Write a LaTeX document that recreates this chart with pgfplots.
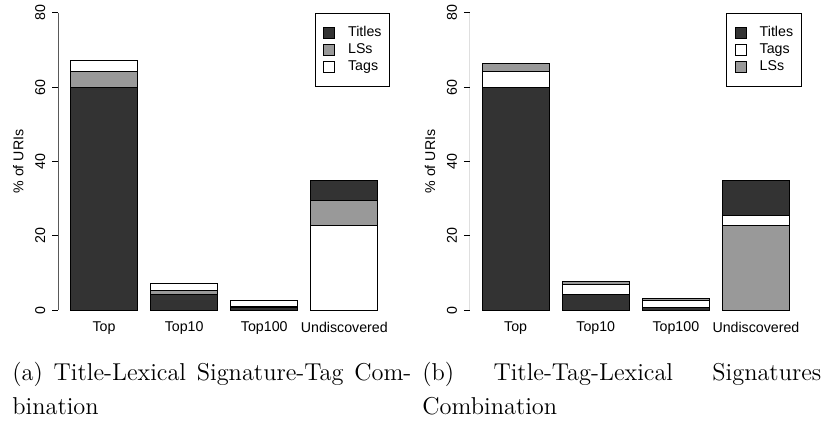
\documentclass[border=0pt]{standalone}
\usepackage{pgfplots}
\pgfplotsset{compat=1.18}
\usepackage{fontspec}
\newfontfamily\arial{Liberation Sans}
\definecolor{dk}{HTML}{333333}
\definecolor{md}{HTML}{999999}
\newcommand{\sfs}{\arial\fontsize{7.1}{8.5}\selectfont}
\pgfplotsset{
  sq/.style={legend image code/.code={\draw[##1,draw=black,line width=0.5pt] (0pt,-2.75pt) rectangle (5.5pt,2.75pt);}},
  rstyle/.style={
    scale only axis, width=165.8pt, height=160.5pt,
    xmin=0.016, xmax=4.984, ymin=-3.2, ymax=83.2,
    ybar stacked, bar width=1,
    axis x line*=bottom, axis y line*=left,
    axis line style={draw=none},
    xtick={0.7,1.9,3.1,4.3},
    xticklabels={Top,Top10,Top100,Undiscovered},
    xtick style={draw=none},
    ytick={0,20,40,60,80},
    ytick style={draw=black,line width=0.5pt},
    tick align=outside, major tick length=3pt,
    /pgf/number format/assume math mode=true,
    ticklabel style={font=\sfs},
    yticklabel style={rotate=90, anchor=south},
    xticklabel style={anchor=north, inner sep=0pt, yshift=3.2pt},
    ylabel={\% of URIs},
    ylabel style={font=\sfs, at={(axis description cs:-0.1206,0.5)}, anchor=center},
    legend style={at={(axis cs:4.984,80)}, anchor=north east, draw=black, line width=0.5pt,
      font=\sfs, inner xsep=4pt, inner ysep=6.5pt, row sep=2pt,
      nodes={inner sep=0pt, text height=5.2pt, text depth=1.3pt},
      column sep=6.5pt},
    legend cell align=left,
    every axis plot/.append style={draw=black, line width=0.5pt},
  }
}
\begin{document}
\begin{tikzpicture}
\useasboundingbox (0,0) rectangle (413.5pt,-217pt);
% (a)
\begin{axis}[rstyle, at={(29.2pt,-161pt)}, anchor=south west]
\addplot[fill=dk, sq] coordinates {(0.7,60) (1.9,4.2) (3.1,0.8) (4.3,0)};
\addlegendentry{Titles}
\addplot[fill=md, sq] coordinates {(0.7,4.3) (1.9,1.0) (3.1,0.2) (4.3,0)};
\addlegendentry{LSs}
\addplot[fill=white, sq] coordinates {(0.7,2.9) (1.9,1.9) (3.1,1.5) (4.3,22.8)};
\addlegendentry{Tags}
\addplot[fill=md, forget plot] coordinates {(0.7,0) (1.9,0) (3.1,0) (4.3,6.6)};
\addplot[fill=dk, forget plot] coordinates {(0.7,0) (1.9,0) (3.1,0) (4.3,5.6)};
\draw[line width=0.5pt] (axis cs:0.016,0) -- (axis cs:0.016,80);
\end{axis}
% (b)
\begin{axis}[rstyle, at={(235pt,-161pt)}, anchor=south west]
\addplot[fill=md, forget plot] coordinates {(0.7,0) (1.9,0) (3.1,0) (4.3,22.8)};
\addplot[fill=dk, sq] coordinates {(0.7,60) (1.9,4.2) (3.1,0.6) (4.3,0)};
\addlegendentry{Titles}
\addplot[fill=white, sq] coordinates {(0.7,4.2) (1.9,2.7) (3.1,2.1) (4.3,2.8)};
\addlegendentry{Tags}
\addplot[fill=md, sq] coordinates {(0.7,2.3) (1.9,0.7) (3.1,0.3) (4.3,0)};
\addlegendentry{LSs}
\addplot[fill=dk, forget plot] coordinates {(0.7,0) (1.9,0) (3.1,0) (4.3,9.4)};
\draw[line width=0.5pt] (axis cs:0.016,0) -- (axis cs:0.016,80);
\end{axis}
\node[anchor=north west, inner sep=0pt, align=left, font=\fontsize{12.2}{17}\selectfont] at (6pt,-181pt)
  {\makebox[199.5pt][s]{(a) Title-Lexical Signature-Tag Com-}\\bination};
\node[anchor=north west, inner sep=0pt, align=left, font=\fontsize{12.2}{17}\selectfont] at (211pt,-181pt)
  {\makebox[199.5pt][s]{(b) Title-Tag-Lexical Signatures}\\Combination};
\end{tikzpicture}
\end{document}
